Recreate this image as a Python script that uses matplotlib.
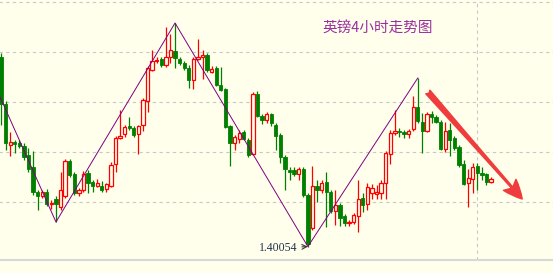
import numpy as np
import matplotlib.pyplot as plt

plt.rcParams['font.family'] = ['Noto Sans CJK SC', 'DejaVu Sans']

# GBP 4h candles
opens = [1.4195, 1.4148, 1.4107, 1.4110, 1.4109, 1.4106, 1.4097, 1.4085, 1.4060, 1.4056,
         1.4060, 1.40485, 1.4053, 1.4045, 1.4056, 1.4091, 1.4078, 1.4059, 1.4062, 1.4079,
         1.4070, 1.4066, 1.4066, 1.4063, 1.4066, 1.4088, 1.4114, 1.4118, 1.4126, 1.4124,
         1.4118, 1.4127, 1.4151, 1.4182, 1.4191, 1.4193, 1.4187, 1.4195, 1.4201, 1.4193,
         1.4189, 1.4184, 1.4172, 1.4193, 1.4195, 1.4197, 1.4180, 1.4184, 1.4167, 1.4163,
         1.4126, 1.4109, 1.4113, 1.4120, 1.4112, 1.4098, 1.4158, 1.4136, 1.4132, 1.4138,
         1.4127, 1.4117, 1.4095, 1.4082, 1.4082, 1.4078, 1.4083, 1.4057, 1.4024, 1.4066,
         1.4062, 1.4070, 1.4060, 1.4041, 1.4047, 1.4036, 1.40295, 1.4030, 1.4036, 1.4054,
         1.4048, 1.4059, 1.4058, 1.4059, 1.4069, 1.4098, 1.4119, 1.4121, 1.4120, 1.4118,
         1.4123, 1.4145, 1.4130, 1.4121, 1.4138, 1.4135, 1.4130, 1.4103, 1.4122, 1.4114,
         1.4105, 1.4088, 1.4069, 1.4073, 1.4086, 1.4079, 1.4078, 1.4070]
highs = [1.4199, 1.4151, 1.4120, 1.4112, 1.4112, 1.4109, 1.4104, 1.4101, 1.4062, 1.4062,
         1.4063, 1.4052, 1.4056, 1.4080, 1.4093, 1.4093, 1.4080, 1.4064, 1.4081, 1.4082,
         1.4072, 1.4073, 1.4071, 1.4069, 1.4090, 1.4116, 1.4142, 1.4127, 1.4135, 1.4126,
         1.4127, 1.4154, 1.4186, 1.4202, 1.4195, 1.4195, 1.4225, 1.4218, 1.4229, 1.4195,
         1.4191, 1.4187, 1.4195, 1.4213, 1.4202, 1.4199, 1.4186, 1.4186, 1.4185, 1.4164,
         1.4127, 1.4117, 1.4122, 1.4122, 1.4114, 1.4160, 1.4161, 1.4138, 1.4140, 1.4139,
         1.4129, 1.4119, 1.4097, 1.4085, 1.4085, 1.4085, 1.4085, 1.4059, 1.4086, 1.4072,
         1.4072, 1.4080, 1.4062, 1.4062, 1.4049, 1.4038, 1.4032, 1.4039, 1.4072, 1.4059,
         1.4069, 1.4068, 1.4067, 1.4072, 1.4101, 1.4122, 1.4142, 1.4124, 1.4122, 1.4123,
         1.4156, 1.4174, 1.4139, 1.4140, 1.4141, 1.4137, 1.4132, 1.4130, 1.4129, 1.4116,
         1.4107, 1.4092, 1.4083, 1.4089, 1.4089, 1.4085, 1.4079, 1.4075]
lows = [1.4127, 1.4102, 1.4096, 1.4099, 1.4104, 1.4092, 1.4080, 1.4057, 1.4042, 1.4054,
        1.4046, 1.4043, 1.4030, 1.4042, 1.4054, 1.4075, 1.4057, 1.4056, 1.4060, 1.4059,
        1.4060, 1.4065, 1.4060, 1.4060, 1.4065, 1.4080, 1.4113, 1.4115, 1.4122, 1.4115,
        1.4098, 1.4121, 1.4140, 1.4181, 1.4189, 1.4185, 1.4185, 1.4189, 1.4184, 1.4187,
        1.4182, 1.4164, 1.4163, 1.4192, 1.4173, 1.4180, 1.4179, 1.4166, 1.4161, 1.4124,
        1.4086, 1.4102, 1.4109, 1.4112, 1.4095, 1.4097, 1.4135, 1.4128, 1.4129, 1.4126,
        1.4102, 1.4089, 1.4062, 1.4072, 1.4076, 1.4072, 1.4055, 1.40054, 1.4022, 1.4050,
        1.4059, 1.4025, 1.4039, 1.4027, 1.4026, 1.4026, 1.4026, 1.4028, 1.4020, 1.4040,
        1.4042, 1.4053, 1.4053, 1.4053, 1.4053, 1.4088, 1.4117, 1.4115, 1.4114, 1.4114,
        1.4121, 1.4129, 1.4099, 1.4120, 1.4129, 1.4129, 1.4102, 1.4100, 1.4096, 1.4102,
        1.4085, 1.4067, 1.4045, 1.4059, 1.4062, 1.4072, 1.4067, 1.4069]
closes = [1.4148, 1.4109, 1.4110, 1.4108, 1.4106, 1.4095, 1.4083, 1.4060, 1.4056, 1.4060,
          1.4048, 1.4049, 1.4048, 1.4062, 1.4091, 1.4077, 1.4059, 1.4062, 1.4078, 1.4069,
          1.4066, 1.4069, 1.4062, 1.4068, 1.4087, 1.4114, 1.4116, 1.4125, 1.4124, 1.4117,
          1.4126, 1.4152, 1.4184, 1.4191, 1.4192, 1.4187, 1.4195, 1.4202, 1.4194, 1.4189,
          1.4184, 1.4172, 1.4193, 1.4195, 1.4197, 1.4182, 1.4183, 1.4167, 1.4162, 1.4125,
          1.4109, 1.4115, 1.4119, 1.4113, 1.4097, 1.4158, 1.4136, 1.4132, 1.4138, 1.4129,
          1.4116, 1.4095, 1.4083, 1.4080, 1.4078, 1.4083, 1.4057, 1.4008, 1.4066, 1.4062,
          1.4069, 1.4060, 1.4041, 1.4047, 1.4034, 1.4029, 1.4030, 1.4037, 1.4053, 1.4047,
          1.4065, 1.4064, 1.4060, 1.4069, 1.4099, 1.4119, 1.4121, 1.4120, 1.4118, 1.4121,
          1.4145, 1.4131, 1.4121, 1.4138, 1.4135, 1.4130, 1.4103, 1.4121, 1.4112, 1.4104,
          1.4087, 1.4068, 1.4074, 1.4085, 1.4079, 1.4077, 1.4070, 1.4073]

# zigzag swing points (bar index, price)
zigzag_idx = [-0.2, 12, 38, 67, 91]
zigzag_px = [1.4155, 1.4030, 1.4229, 1.40054, 1.4174]

grid_levels = [1.405, 1.410, 1.415, 1.420, 1.425]
marker_bar = 104

title = "英镑4小时走势图"
low_label = "1.40054"
low_idx, low_price = 67, 1.40054
trend_start = (93.2, 1.4160)
trend_end = (113.8, 1.4053)

bg = '#FFFFEC'
red = '#FF0000'
green = '#008000'

fig = plt.figure(figsize=(5.53, 2.73), dpi=100, facecolor=bg)
ax = fig.add_axes([0, 13 / 273, 1, 260 / 273], facecolor=bg)

o = np.array(opens)
h = np.array(highs)
l = np.array(lows)
c = np.array(closes)
x = np.arange(len(o))
up = c >= o
body_bot = np.minimum(o, c)
body_h = np.maximum(np.abs(c - o), 0.00004)

# grid
ax.hlines(grid_levels, -1, 130, colors='#C8C8C8', linestyles=(0, (3, 3)), lw=0.8, zorder=0)
ax.axvline(marker_bar, color='#C8C8C8', ls=(0, (3, 3)), lw=0.8, zorder=0)

# wicks then bodies
ax.vlines(x[up], l[up], h[up], color=red, lw=0.9, zorder=2)
ax.vlines(x[~up], l[~up], h[~up], color=green, lw=0.9, zorder=2)
ax.bar(x[up], body_h[up], bottom=body_bot[up], width=0.72, facecolor=bg,
       edgecolor=red, lw=0.9, zorder=3)
ax.bar(x[~up], body_h[~up], bottom=body_bot[~up], width=0.72, facecolor=green,
       edgecolor=green, lw=0.6, zorder=3)

# zigzag
ax.plot(zigzag_idx, zigzag_px, color='#800080', lw=0.7, zorder=4)

ax.text(82.3, 1.42245, title, ha='center', va='center', fontsize=10.5, color='#9A2FA0')

ax.annotate(low_label, xy=(low_idx, low_price), xytext=(64.8, 1.4004),
            ha='right', va='center', fontsize=8.5, family='Liberation Serif', color='#1E3250',
            arrowprops=dict(arrowstyle='->', color='#3A3A3A', lw=0.8, shrinkA=1, shrinkB=0))

ax.annotate('', xy=trend_end, xytext=trend_start,
            arrowprops=dict(arrowstyle='fancy,head_length=0.85,head_width=0.75,tail_width=0.25',
                            color='#F03C3C', mutation_scale=16, shrinkA=0, shrinkB=0))

ax.set_xlim(-1 / 4.58, 552 / 4.58)
ax.set_ylim(1.3992, 1.4252)
ax.set_xticks([])
ax.set_yticks([])
for side in ['top', 'left', 'right']:
    ax.spines[side].set_visible(False)
ax.spines['bottom'].set_color('#D8D8D8')
ax.spines['bottom'].set_linewidth(1.5)

fig.savefig('out.png', dpi=100, facecolor=bg)
